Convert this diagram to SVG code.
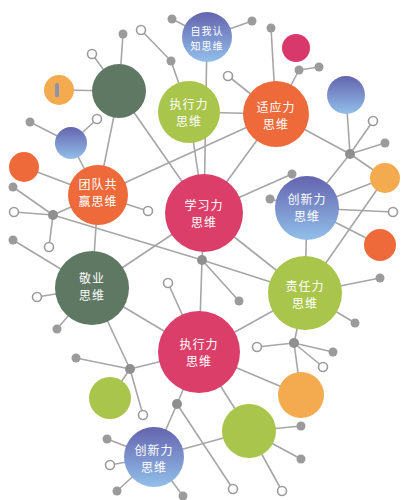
<svg xmlns="http://www.w3.org/2000/svg" width="403" height="500" viewBox="0 0 403 500">
<defs>
<linearGradient id="gb" x1="0" y1="0" x2="0" y2="1">
<stop offset="0" stop-color="#6464ae"/>
<stop offset="1" stop-color="#92bfea"/>
</linearGradient>
<style>
.e{stroke:#a6a6a6;stroke-width:1.6;fill:none}
.d{fill:#9b9b9b}
.o{fill:#fff;stroke:#9b9b9b;stroke-width:1.6}
.h{fill:#8f8f8f}
.t{font-family:"Noto Sans CJK SC","Noto Sans",sans-serif;font-size:12px;fill:#fff;text-anchor:middle;letter-spacing:1px}
.s{font-size:10px}
.gr{fill:url(#gb)}
.or{fill:#ee6a3a}
.pk{fill:#db3f69}
.gn{fill:#a9c54c}
.dg{fill:#5f7864}
.yo{fill:#f4aa4f}
.mg{fill:#d8386c}
</style>
</defs>
<rect width="403" height="500" fill="#fff"/>
<g id="connectors">
<line class="e" x1="207" y1="37" x2="172" y2="19"/>
<line class="e" x1="207" y1="37" x2="252" y2="21"/>
<line class="e" x1="207" y1="37" x2="204" y2="213"/>
<line class="e" x1="189" y1="112" x2="171" y2="61"/>
<line class="e" x1="171" y1="61" x2="141" y2="30"/>
<line class="e" x1="119" y1="91" x2="123" y2="34"/>
<line class="e" x1="119" y1="91" x2="92" y2="54"/>
<line class="e" x1="119" y1="91" x2="59" y2="90"/>
<line class="e" x1="119" y1="91" x2="204" y2="213"/>
<line class="e" x1="119" y1="91" x2="98" y2="195"/>
<line class="e" x1="71" y1="143" x2="30" y2="122"/>
<line class="e" x1="71" y1="143" x2="97" y2="119"/>
<line class="e" x1="71" y1="143" x2="98" y2="195"/>
<line class="e" x1="24" y1="167" x2="98" y2="195"/>
<line class="e" x1="98" y1="195" x2="148" y2="211"/>
<line class="e" x1="98" y1="195" x2="92" y2="288"/>
<line class="e" x1="98" y1="195" x2="276" y2="114"/>
<line class="e" x1="98" y1="195" x2="53" y2="215"/>
<line class="e" x1="53" y1="215" x2="13" y2="187"/>
<line class="e" x1="53" y1="215" x2="14" y2="212"/>
<line class="e" x1="53" y1="215" x2="49" y2="247"/>
<line class="e" x1="53" y1="215" x2="202" y2="260"/>
<line class="e" x1="13" y1="240" x2="92" y2="288"/>
<line class="e" x1="276" y1="114" x2="271" y2="28"/>
<line class="e" x1="276" y1="114" x2="299" y2="70"/>
<line class="e" x1="299" y1="70" x2="319" y2="67"/>
<line class="e" x1="276" y1="114" x2="228" y2="76"/>
<line class="e" x1="276" y1="114" x2="189" y2="112"/>
<line class="e" x1="276" y1="114" x2="350" y2="154"/>
<line class="e" x1="276" y1="114" x2="204" y2="213"/>
<line class="e" x1="189" y1="112" x2="204" y2="213"/>
<line class="e" x1="350" y1="154" x2="346" y2="95"/>
<line class="e" x1="350" y1="154" x2="373" y2="121"/>
<line class="e" x1="350" y1="154" x2="385" y2="143"/>
<line class="e" x1="350" y1="154" x2="385" y2="178"/>
<line class="e" x1="350" y1="154" x2="307" y2="208"/>
<line class="e" x1="385" y1="178" x2="307" y2="208"/>
<line class="e" x1="385" y1="178" x2="305" y2="293"/>
<line class="e" x1="307" y1="208" x2="393" y2="212"/>
<line class="e" x1="307" y1="208" x2="380" y2="245"/>
<line class="e" x1="307" y1="208" x2="305" y2="293"/>
<line class="e" x1="307" y1="208" x2="270" y2="199"/>
<line class="e" x1="204" y1="213" x2="292" y2="174"/>
<line class="e" x1="204" y1="213" x2="305" y2="293"/>
<line class="e" x1="204" y1="213" x2="92" y2="288"/>
<line class="e" x1="204" y1="213" x2="202" y2="260"/>
<line class="e" x1="202" y1="260" x2="239" y2="301"/>
<line class="e" x1="202" y1="260" x2="199" y2="352"/>
<line class="e" x1="202" y1="260" x2="305" y2="293"/>
<line class="e" x1="168" y1="283" x2="199" y2="352"/>
<line class="e" x1="305" y1="293" x2="380" y2="278"/>
<line class="e" x1="305" y1="293" x2="355" y2="323"/>
<line class="e" x1="305" y1="293" x2="199" y2="352"/>
<line class="e" x1="305" y1="293" x2="294" y2="343"/>
<line class="e" x1="294" y1="343" x2="257" y2="347"/>
<line class="e" x1="294" y1="343" x2="333" y2="352"/>
<line class="e" x1="294" y1="343" x2="323" y2="367"/>
<line class="e" x1="294" y1="343" x2="301" y2="395"/>
<line class="e" x1="199" y1="352" x2="301" y2="395"/>
<line class="e" x1="199" y1="352" x2="249" y2="431"/>
<line class="e" x1="199" y1="352" x2="130" y2="369"/>
<line class="e" x1="199" y1="352" x2="177" y2="404"/>
<line class="e" x1="199" y1="352" x2="92" y2="288"/>
<line class="e" x1="92" y1="288" x2="37" y2="297"/>
<line class="e" x1="92" y1="288" x2="57" y2="329"/>
<line class="e" x1="92" y1="288" x2="130" y2="369"/>
<line class="e" x1="130" y1="369" x2="76" y2="358"/>
<line class="e" x1="130" y1="369" x2="110" y2="398"/>
<line class="e" x1="130" y1="369" x2="143" y2="415"/>
<line class="e" x1="177" y1="404" x2="154" y2="457"/>
<line class="e" x1="177" y1="404" x2="233" y2="489"/>
<line class="e" x1="154" y1="457" x2="249" y2="431"/>
<line class="e" x1="154" y1="457" x2="107" y2="439"/>
<line class="e" x1="154" y1="457" x2="110" y2="465"/>
<line class="e" x1="154" y1="457" x2="117" y2="491"/>
<line class="e" x1="154" y1="457" x2="183" y2="496"/>
<line class="e" x1="249" y1="431" x2="301" y2="426"/>
<line class="e" x1="249" y1="431" x2="301" y2="459"/>
<line class="e" x1="249" y1="431" x2="282" y2="491"/>
</g>
<g id="dots">
<circle class="h" cx="350" cy="154" r="5"/>
<circle class="h" cx="202" cy="260" r="5"/>
<circle class="h" cx="53" cy="215" r="5"/>
<circle class="h" cx="130" cy="369" r="5"/>
<circle class="h" cx="177" cy="404" r="5"/>
<circle class="h" cx="294" cy="343" r="5"/>
<circle class="d" cx="172" cy="19" r="4.5"/>
<circle class="d" cx="252" cy="21" r="4.5"/>
<circle class="d" cx="123" cy="34" r="4.5"/>
<circle class="d" cx="171" cy="61" r="4.5"/>
<circle class="d" cx="271" cy="28" r="4.5"/>
<circle class="d" cx="299" cy="70" r="4.5"/>
<circle class="d" cx="319" cy="67" r="4.5"/>
<circle class="d" cx="30" cy="122" r="4.5"/>
<circle class="d" cx="13" cy="187" r="4.5"/>
<circle class="d" cx="13" cy="240" r="4.5"/>
<circle class="d" cx="385" cy="143" r="4.5"/>
<circle class="d" cx="292" cy="174" r="4.5"/>
<circle class="d" cx="270" cy="199" r="4.5"/>
<circle class="d" cx="239" cy="301" r="4.5"/>
<circle class="d" cx="380" cy="278" r="4.5"/>
<circle class="d" cx="355" cy="323" r="4.5"/>
<circle class="d" cx="57" cy="329" r="4.5"/>
<circle class="d" cx="76" cy="358" r="4.5"/>
<circle class="d" cx="333" cy="352" r="4.5"/>
<circle class="d" cx="301" cy="426" r="4.5"/>
<circle class="d" cx="301" cy="459" r="4.5"/>
<circle class="d" cx="107" cy="439" r="4.5"/>
<circle class="d" cx="117" cy="491" r="4.5"/>
<circle class="d" cx="183" cy="496" r="4.5"/>
<circle class="o" cx="141" cy="30" r="4.5"/>
<circle class="o" cx="92" cy="54" r="4.5"/>
<circle class="o" cx="228" cy="76" r="4.5"/>
<circle class="o" cx="97" cy="119" r="4.5"/>
<circle class="o" cx="373" cy="121" r="4.5"/>
<circle class="o" cx="14" cy="212" r="4.5"/>
<circle class="o" cx="49" cy="247" r="4.5"/>
<circle class="o" cx="148" cy="211" r="4.5"/>
<circle class="o" cx="393" cy="212" r="4.5"/>
<circle class="o" cx="37" cy="297" r="4.5"/>
<circle class="o" cx="168" cy="283" r="4.5"/>
<circle class="o" cx="257" cy="347" r="4.5"/>
<circle class="o" cx="323" cy="367" r="4.5"/>
<circle class="o" cx="143" cy="415" r="4.5"/>
<circle class="o" cx="110" cy="465" r="4.5"/>
<circle class="o" cx="233" cy="489" r="4.5"/>
<circle class="o" cx="282" cy="491" r="4.5"/>
</g>
<g id="n_self"><circle class="gr" cx="207" cy="37" r="25"/><text class="t s" x="207" y="35">自我认</text><text class="t s" x="207" y="50">知思维</text></g>
<g id="n_pink"><circle class="mg" cx="296" cy="48" r="14"/></g>
<g id="n_dkgreen"><circle class="dg" cx="119" cy="91" r="27"/></g>
<g id="n_orange_l"><circle class="yo" cx="59" cy="90" r="15"/><rect x="55" y="83" width="4" height="14" rx="1.5" fill="#8a95ad"/></g>
<g id="n_exec_top"><circle class="gn" cx="189" cy="112" r="31"/><text class="t" x="189" y="109">执行力</text><text class="t" x="189" y="126">思维</text></g>
<g id="n_adapt"><circle class="or" cx="276" cy="114" r="33"/><text class="t" x="276" y="112">适应力</text><text class="t" x="276" y="129">思维</text></g>
<g id="n_blue_r"><circle class="gr" cx="346" cy="95" r="19"/></g>
<g id="n_blue_l"><circle class="gr" cx="71" cy="143" r="16"/></g>
<g id="n_red_l"><circle class="or" cx="24" cy="167" r="15"/></g>
<g id="n_team"><circle class="or" cx="98" cy="195" r="30"/><text class="t" x="98" y="189">团队共</text><text class="t" x="98" y="206">赢思维</text></g>
<g id="n_learn"><circle class="pk" cx="204" cy="213" r="39"/><text class="t" x="204" y="210">学习力</text><text class="t" x="204" y="227">思维</text></g>
<g id="n_innov_r"><circle class="gr" cx="307" cy="208" r="32"/><text class="t" x="307" y="204">创新力</text><text class="t" x="307" y="221">思维</text></g>
<g id="n_orange_r"><circle class="yo" cx="385" cy="178" r="15"/></g>
<g id="n_red_r"><circle class="or" cx="380" cy="245" r="16"/></g>
<g id="n_dedic"><circle class="dg" cx="92" cy="288" r="37"/><text class="t" x="92" y="283">敬业</text><text class="t" x="92" y="300">思维</text></g>
<g id="n_resp"><circle class="gn" cx="305" cy="293" r="37"/><text class="t" x="305" y="291">责任力</text><text class="t" x="305" y="308">思维</text></g>
<g id="n_exec_bot"><circle class="pk" cx="199" cy="352" r="41"/><text class="t" x="199" y="349">执行力</text><text class="t" x="199" y="366">思维</text></g>
<g id="n_green_bl"><circle class="gn" cx="110" cy="398" r="21"/></g>
<g id="n_orange_br"><circle class="yo" cx="301" cy="395" r="23"/></g>
<g id="n_green_bm"><circle class="gn" cx="249" cy="431" r="27"/></g>
<g id="n_innov_b"><circle class="gr" cx="154" cy="457" r="30"/><text class="t" x="154" y="455">创新力</text><text class="t" x="154" y="472">思维</text></g>
</svg>
